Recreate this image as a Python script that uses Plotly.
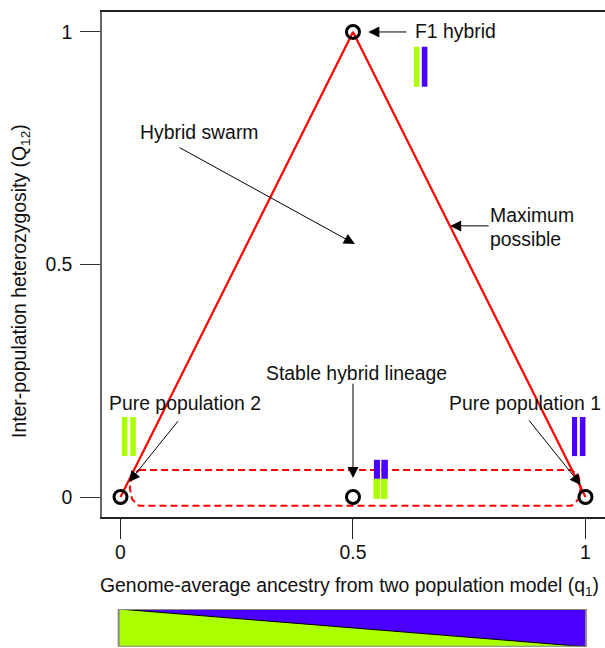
import plotly.graph_objects as go

GREEN = "#AAFF00"
BLUE = "#4B00FF"
W, H = 605, 648
FONT = "Liberation Sans, Arial, sans-serif"
SIZE = 19.4

# Limit of heterozygosity
limit_q = [0, 0.5, 1]
limit_Q = [0, 1, 0]

# Genotype classes
class_q = [0, 0.5, 1, 0.5]
class_Q = [0, 1, 0, 0]

# Dashed region around low heterozygosity
region_q = [0.04, 0.97, 0.985, 0.99, 0.985, 0.97, 0.04, 0.025, 0.02, 0.025, 0.04]
region_Q = [0.058, 0.058, 0.045, 0.02, -0.005, -0.019, -0.019, -0.005, 0.02, 0.045, 0.058]

# Chromosome bars: q0, q1, Q0, Q1, colour name
chromosomes = [
    (0.003, 0.015, 0.088, 0.172, "g"),
    (0.021, 0.033, 0.088, 0.172, "g"),
    (0.971, 0.982, 0.088, 0.172, "b"),
    (0.988, 1.000, 0.088, 0.172, "b"),
    (0.631, 0.643, 0.882, 0.968, "g"),
    (0.648, 0.660, 0.882, 0.968, "b"),
    (0.545, 0.558, 0.039, 0.080, "b"),
    (0.561, 0.575, 0.039, 0.080, "b"),
    (0.544, 0.558, -0.004, 0.039, "g"),
    (0.560, 0.574, -0.004, 0.039, "g"),
]

# Labels: text, q, Q, anchor
labels = [
    ("F1 hybrid", 0.630, 1.002, "left"),
    ("Hybrid swarm", 0.037, 0.785, "left"),
    ("Maximum", 0.791, 0.607, "left"),
    ("possible", 0.791, 0.555, "left"),
    ("Stable hybrid lineage", 0.508, 0.267, "center"),
    ("Pure population 2", -0.029, 0.202, "left"),
    ("Pure population 1", 0.702, 0.202, "left"),
]

# Arrows: tail q, tail Q, head q, head Q
arrows = [
    (0.618, 1.0, 0.533, 1.0),
    (0.795, 0.583, 0.709, 0.583),
    (0.124, 0.753, 0.504, 0.544),
    (0.126, 0.166, 0.018, 0.032),
    (0.876, 0.168, 0.990, 0.026),
    (0.5, 0.247, 0.5, 0.041),
]

# Ancestry strip
strip_q = [-0.004, 1.001]
strip_top = [1, 1]
strip_split = [1, 0]
strip_bottom = [0, 0]

ticks = [0, 0.5, 1]
tick_text = ["0", "0.5", "1"]

x_range = [-0.0398, 1.042]
y_range = [-0.043, 1.044]

fig = go.Figure()

fig.add_trace(go.Scatter(x=region_q, y=region_Q, mode="lines",
                         line=dict(color="#FF0000", width=2, dash="7px,4px")))
fig.add_trace(go.Scatter(x=limit_q, y=limit_Q, mode="lines",
                         line=dict(color="#FF0000", width=2.2)))
fig.add_trace(go.Scatter(x=class_q, y=class_Q, mode="markers",
                         marker=dict(symbol="circle-open", size=13, color="black",
                                     line=dict(color="black", width=3))))

# Ancestry strip
fig.add_trace(go.Scatter(x=strip_q + strip_q[::-1], y=strip_split + strip_bottom[::-1],
                         xaxis="x2", yaxis="y2", mode="lines", fill="toself",
                         fillcolor=GREEN, line=dict(color="rgba(0,0,0,0)", width=0)))
fig.add_trace(go.Scatter(x=strip_q + strip_q[::-1], y=strip_top + strip_split[::-1],
                         xaxis="x2", yaxis="y2", mode="lines", fill="toself",
                         fillcolor=BLUE, line=dict(color="rgba(0,0,0,0)", width=0)))
fig.add_trace(go.Scatter(x=strip_q, y=strip_split, xaxis="x2", yaxis="y2", mode="lines",
                         line=dict(color="black", width=1)))
fig.add_trace(go.Scatter(x=strip_q + strip_q[::-1] + strip_q[:1],
                         y=strip_top + strip_bottom + strip_top[:1],
                         xaxis="x2", yaxis="y2", mode="lines",
                         line=dict(color="#888888", width=2)))

for q0, q1, y0, y1, c in chromosomes:
    fig.add_shape(type="rect", xref="x", yref="y", x0=q0, x1=q1, y0=y0, y1=y1,
                  fillcolor=GREEN if c == "g" else BLUE, line=dict(width=0), layer="above")

for text, q, Q, anchor in labels:
    fig.add_annotation(x=q, y=Q, xref="x", yref="y", text=text, showarrow=False,
                       xanchor=anchor, yanchor="middle",
                       font=dict(family=FONT, size=SIZE, color="#111111"))

for q0, Q0, q1, Q1 in arrows:
    fig.add_annotation(x=q1, y=Q1, ax=q0, ay=Q0, xref="x", yref="y", axref="x", ayref="y",
                       text="", showarrow=True, arrowhead=2, arrowsize=2.2, arrowwidth=1,
                       arrowcolor="black")

fig.add_annotation(x=349 / W, y=(H - 586) / H, xref="paper", yref="paper",
                   text="Genome-average ancestry from two population model (q<sub>1</sub>)",
                   showarrow=False, xanchor="center", yanchor="middle",
                   font=dict(family=FONT, size=SIZE, color="#111111"))
fig.add_annotation(x=20 / W, y=(H - 281) / H, xref="paper", yref="paper",
                   text="Inter-population heterozygosity (Q<sub>12</sub>)", textangle=-90,
                   showarrow=False, xanchor="center", yanchor="middle",
                   font=dict(family=FONT, size=SIZE, color="#111111"))

fig.update_layout(
    width=W, height=H, autosize=False, showlegend=False,
    margin=dict(l=0, r=0, t=0, b=0),
    paper_bgcolor="white", plot_bgcolor="white",
    font=dict(family=FONT, color="#111111"),
    xaxis=dict(domain=[102 / W, 1], range=x_range, tickmode="array", tickvals=ticks,
               ticktext=tick_text, ticks="outside", ticklen=20, tickwidth=1, tickcolor="#222222",
               ticklabelstandoff=-3,
               tickfont=dict(size=SIZE, family=FONT), showgrid=False, zeroline=False,
               showline=True, linecolor="#222222", linewidth=1.5, mirror=True, anchor="y"),
    yaxis=dict(domain=[(H - 517) / H, (H - 11.5) / H], range=y_range, tickmode="array",
               tickvals=ticks, ticktext=tick_text, ticks="outside", ticklen=20, tickwidth=1,
               tickcolor="#333333", ticklabelstandoff=4,
               tickfont=dict(size=SIZE, family=FONT), showgrid=False,
               zeroline=False, showline=True, linecolor="#666666", linewidth=1.5, anchor="x"),
    xaxis2=dict(domain=[102 / W, 1], range=x_range, visible=False, anchor="y2"),
    yaxis2=dict(domain=[(H - 646.7) / H, (H - 609) / H], range=[0, 1], visible=False, anchor="x2"),
)

fig.write_html("out.html", config=dict(displayModeBar=False),
               post_script="document.body.style.margin='0';document.body.style.overflow='hidden';")
